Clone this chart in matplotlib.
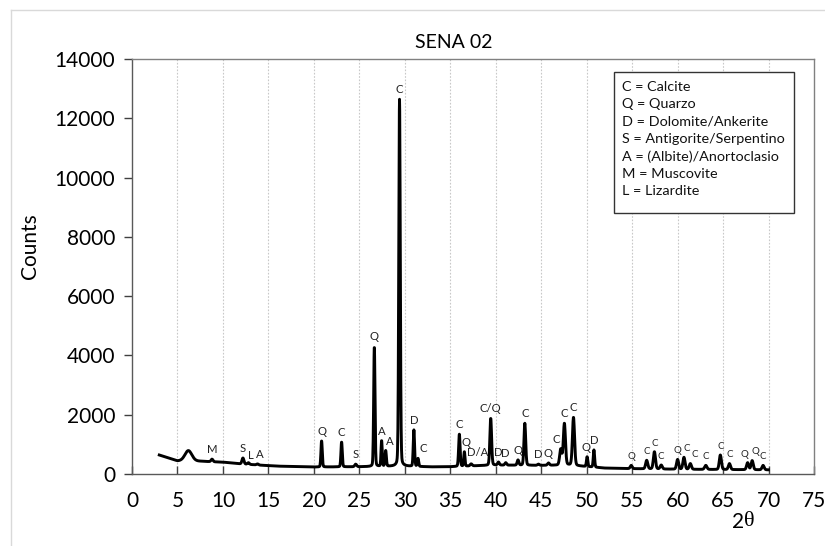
import numpy as np
import matplotlib
matplotlib.use("Agg")
import matplotlib.pyplot as plt
from matplotlib.lines import Line2D
from matplotlib.patches import Rectangle

plt.rcParams['font.family'] = ['Lato', 'DejaVu Sans']

# background counts under the pattern (2theta, counts)
bg_x = [3.0, 4.0, 5.0, 5.6, 7.5, 9.0, 10.0, 11.0, 12.0, 14.0, 16.0, 20.0, 25.0,
        30.0, 33.0, 35.0, 38.0, 40.0, 45.0, 48.0, 52.0, 55.0, 60.0, 65.0, 70.0]
bg_y = [640, 540, 440, 440, 430, 410, 400, 370, 340, 300, 265, 235, 245,
        260, 240, 245, 280, 300, 290, 300, 200, 180, 160, 150, 140]

# reflections: position (2theta), counts at the top, width, phase label
peak_pos = [6.2, 8.8, 12.2, 12.8, 13.8, 20.85, 23.05, 24.6, 26.65, 27.45, 27.9,
            29.42, 31.0, 31.45, 36.0, 36.55, 37.3, 39.45, 40.3, 41.1, 42.45,
            43.2, 44.7, 45.8, 47.15, 47.55, 48.55, 50.05, 50.8, 54.9, 56.6,
            57.45, 58.2, 60.0, 60.7, 61.4, 63.1, 64.7, 65.7, 67.7, 68.2, 69.4]
peak_top = [790, 500, 540, 380, 340, 1120, 1080, 330, 4300, 1120, 780,
            12640, 1480, 520, 1340, 750, 340, 1880, 400, 380, 470,
            1710, 330, 370, 830, 1700, 1910, 580, 810, 290, 460,
            750, 300, 490, 560, 350, 290, 640, 350, 380, 450, 290]
peak_fwhm = [0.9, 0.25, 0.25, 0.25, 0.25, 0.17, 0.17, 0.25, 0.17, 0.15, 0.17,
             0.19, 0.17, 0.17, 0.19, 0.15, 0.25, 0.22, 0.22, 0.22, 0.22,
             0.22, 0.25, 0.25, 0.28, 0.27, 0.27, 0.17, 0.17, 0.25, 0.27,
             0.27, 0.27, 0.27, 0.27, 0.27, 0.3, 0.27, 0.27, 0.27, 0.27, 0.27]
peak_label = ['', 'M', 'S', 'L', 'A', 'Q', 'C', 'S', 'Q', 'A', 'A',
              'C', 'D', 'C', 'C', 'Q', 'D/A', 'C/Q', 'D', 'D', 'Q',
              'C', 'D', 'Q', 'C', 'C', 'C', 'Q', 'D', 'Q', 'C',
              'C', 'C', 'Q', 'C', 'C', 'C', 'C', 'C', 'Q', 'Q', 'C']
# label nudges in points (dx, dy)
label_nudge = {3: (2, -2), 4: (2, 0), 10: (3, 0), 13: (4, 0), 15: (1, 0),
               16: (5, 1), 24: (-3, 0), 27: (-1, 0), 34: (2, 0), 35: (3, 0),
               39: (-2, 0), 40: (2, 0)}

legend_lines = ['C = Calcite', 'Q = Quarzo', 'D = Dolomite/Ankerite',
                'S = Antigorite/Serpentino', 'A = (Albite)/Anortoclasio',
                'M = Muscovite', 'L = Lizardite']

x_ticks = list(range(0, 80, 5))
y_ticks = list(range(0, 16000, 2000))

# build the diffraction profile
tt = np.arange(3.0, 70.0, 0.02)
counts = np.interp(tt, bg_x, bg_y).astype(float)
for pos, top, w in zip(peak_pos, peak_top, peak_fwhm):
    amp = top - np.interp(pos, bg_x, bg_y)
    g = np.exp(-4 * np.log(2) * ((tt - pos) / w) ** 2)
    l = 1 / (1 + 4 * ((tt - pos) / w) ** 2)
    counts += amp * (0.85 * g + 0.15 * l)

W, H = 825, 546
fig = plt.figure(figsize=(W / 100, H / 100), dpi=100)
ax = fig.add_axes([132 / W, 1 - 474 / H, (814 - 132) / W, (474 - 59) / H])

ax.plot(tt, counts, color='black', lw=2.1, solid_joinstyle='round')

for i, (pos, top, lab) in enumerate(zip(peak_pos, peak_top, peak_label)):
    if not lab:
        continue
    dx, dy = label_nudge.get(i, (0, 0))
    fs = 7.0 if pos > 54 else 8.2
    ax.annotate(lab, (pos, top), xytext=(dx, 3 + dy), textcoords='offset points',
                ha='center', va='bottom', fontsize=fs, color='#222222')

ax.set_xlim(0, 75)
ax.set_ylim(0, 14000)
ax.set_xticks(x_ticks)
ax.set_yticks(y_ticks)
ax.tick_params(axis='x', direction='in', length=6, width=1, color='#404040',
               labelsize=15, pad=12)
ax.tick_params(axis='y', direction='out', length=6, width=1, color='#404040',
               labelsize=15, pad=6)
for t in x_ticks[1:-1]:
    ax.axvline(t, color='#c8c8c8', lw=0.8, ls=(0, (1.5, 1.5)), zorder=0)
for s in ax.spines.values():
    s.set_color('#595959')
    s.set_linewidth(1.0)
ax.spines['top'].set_color('#808080')
ax.spines['right'].set_color('#808080')

# phase key
ax.add_patch(Rectangle((614 / W, 1 - 213 / H), (794 - 614) / W, (213 - 72) / H,
                       transform=fig.transFigure, fill=True, facecolor='white',
                       edgecolor='#333333', lw=1, zorder=5))
for k, line in enumerate(legend_lines):
    fig.text(622 / W, 1 - (87 + 17.4 * k) / H, line, fontsize=10.4,
             va='center', ha='left', color='#111111', zorder=6)

fig.text(454 / W, 1 - 42 / H, 'SENA 02', fontsize=14, ha='center', va='center')
fig.text(30 / W, 1 - 246 / H, 'Counts', fontsize=15, rotation=90,
         ha='center', va='center')
fig.text(744 / W, 1 - 522 / H, '2', fontsize=15, ha='right', va='center')
fig.text(744 / W, 1 - 522 / H, '\u03b8', fontsize=16, ha='left', va='center',
         family='Liberation Serif')

# chart frame
fig.add_artist(Line2D([11 / W, 11 / W], [0, 1 - 10 / H], transform=fig.transFigure,
                      color='#d9d9d9', lw=1))
fig.add_artist(Line2D([11 / W, 1], [1 - 10 / H, 1 - 10 / H], transform=fig.transFigure,
                      color='#d9d9d9', lw=1))

fig.savefig('out.png', dpi=100)
